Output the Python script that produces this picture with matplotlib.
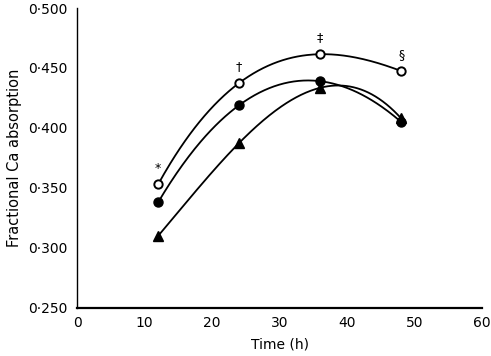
import numpy as np
import matplotlib
matplotlib.use("Agg")
import matplotlib.pyplot as plt
from matplotlib.ticker import FuncFormatter

# Data
time_h = [12, 24, 36, 48]
open_circle = [0.353, 0.4375, 0.4615, 0.4475]
filled_circle = [0.338, 0.419, 0.439, 0.405]
triangle = [0.310, 0.3875, 0.4335, 0.408]
marks = ["*", "\u2020", "\u2021", "\u00a7"]

plt.rcParams["font.family"] = ["DejaVu Sans"]

fig = plt.figure(figsize=(4.91, 3.56), dpi=100)
ax = fig.add_axes([0.157, 0.135, 0.825, 0.8425])

xs = np.linspace(12, 48, 200)
series = [
    (open_circle, dict(marker="o", mfc="white", mec="black", ms=6, mew=1.4)),
    (filled_circle, dict(marker="o", mfc="black", mec="black", ms=6.5)),
    (triangle, dict(marker="^", mfc="black", mec="black", ms=6.5)),
]
for vals, style in series:
    # smooth curve through the four points
    coef = np.polyfit(time_h, vals, 3)
    ax.plot(xs, np.polyval(coef, xs), color="black", lw=1.3, zorder=2)
    ax.plot(time_h, vals, ls="none", zorder=3, **style)

for t, v, m in zip(time_h, open_circle, marks):
    ax.annotate(m, (t, v), xytext=(0, 7), textcoords="offset points",
                ha="center", va="bottom", fontsize=9)

ax.set_xlim(0, 60)
ax.set_ylim(0.25, 0.5)
ax.set_xticks([0, 10, 20, 30, 40, 50, 60])
ax.set_yticks([0.25, 0.30, 0.35, 0.40, 0.45, 0.50])
ax.yaxis.set_major_formatter(FuncFormatter(lambda v, p: f"{v:.3f}".replace(".", "\u00b7")))
ax.tick_params(length=0, labelsize=10)
ax.tick_params(axis="y", pad=7)
ax.tick_params(axis="x", pad=6)
ax.spines["top"].set_visible(False)
ax.spines["right"].set_visible(False)
ax.spines["left"].set_linewidth(1.0)
ax.spines["bottom"].set_linewidth(1.6)
ax.set_xlabel("Time (h)", fontsize=10, labelpad=5)
ax.set_ylabel("Fractional Ca absorption", fontsize=10.5, labelpad=4)

fig.savefig("out.png", dpi=100)
